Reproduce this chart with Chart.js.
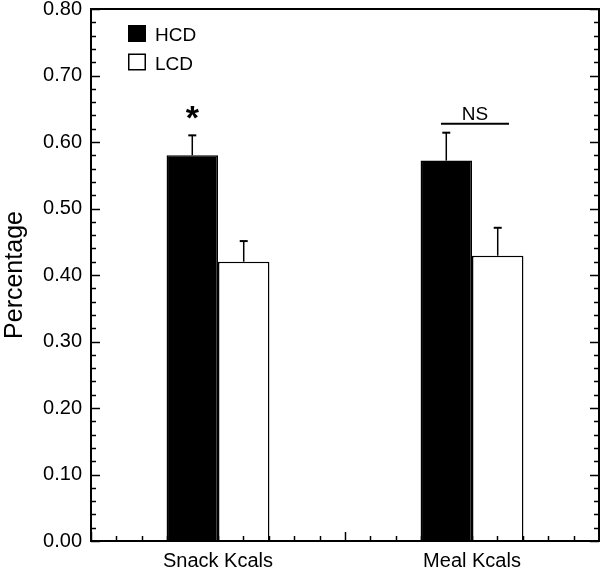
<!DOCTYPE html>
<html><head><meta charset="utf-8">
<script src="https://cdn.jsdelivr.net/npm/chart.js@4"></script>
<style>html,body{margin:0;padding:0;background:#fff}#wrap{width:600px;height:567px}</style>
</head><body><div id="wrap"><canvas id="c" width="600" height="567"></canvas></div>
<script>
const categories = ['Snack Kcals', 'Meal Kcals'];
const seriesNames = ['HCD', 'LCD'];
const hcdValues = [0.58, 0.572];
const lcdValues = [0.42, 0.429];
const hcdErrors = [0.03, 0.042];
const lcdErrors = [0.031, 0.042];
const significanceLabels = ['*', 'NS'];
const yAxisTitle = 'Percentage';

const FONT = '"Liberation Sans", Arial, sans-serif';

const decor = {
  id: 'decor',
  afterDatasetsDraw(chart) {
    const ctx = chart.ctx, a = chart.chartArea, x = chart.scales.x, y = chart.scales.y;
    ctx.save();
    ctx.strokeStyle = '#000';
    ctx.fillStyle = '#000';
    // error bars (upper only)
    chart.data.datasets.forEach((ds, di) => {
      const meta = chart.getDatasetMeta(di);
      meta.data.forEach((bar, i) => {
        const top = y.getPixelForValue(ds.data[i] + ds.errors[i]);
        ctx.lineWidth = 1.5;
        ctx.beginPath(); ctx.moveTo(bar.x, bar.y); ctx.lineTo(bar.x, top); ctx.stroke();
        ctx.lineWidth = 2;
        ctx.beginPath(); ctx.moveTo(bar.x - 4, top); ctx.lineTo(bar.x + 4, top); ctx.stroke();
      });
    });
    // inner tick marks on y (left and right)
    ctx.lineWidth = 1.5;
    for (let k = 0; k <= 40; k++) {
      const py = Math.round(y.getPixelForValue(k * 0.02)) + 0.5;
      const len = k % 5 === 0 ? 9 : 5;
      ctx.beginPath();
      ctx.moveTo(a.left, py); ctx.lineTo(a.left + len, py);
      ctx.moveTo(a.right, py); ctx.lineTo(a.right - len, py);
      ctx.stroke();
    }
    // inner tick marks on x (bottom)
    for (let k = 0; k <= 20; k++) {
      const px = Math.round(x.getPixelForValue(-0.5 + k * 0.1)) + 0.5;
      const len = k % 10 === 0 ? 9 : 5;
      ctx.beginPath(); ctx.moveTo(px, a.bottom); ctx.lineTo(px, a.bottom - len); ctx.stroke();
    }
    // frame
    ctx.lineWidth = 2;
    ctx.strokeRect(a.left, a.top, a.right - a.left, a.bottom - a.top);
    // legend
    ctx.font = '19px ' + FONT;
    ctx.textBaseline = 'alphabetic';
    ctx.textAlign = 'left';
    chart.data.datasets.forEach((ds, di) => {
      const bx = 128, by = 25 + di * 28.5;
      ctx.fillStyle = ds.backgroundColor;
      ctx.fillRect(bx, by, 18, 17);
      ctx.lineWidth = 1.5;
      ctx.strokeStyle = '#000';
      ctx.strokeRect(bx + 0.75, by + 0.75, 16.5, 15.5);
      ctx.fillStyle = '#000';
      ctx.fillText(ds.label, 155, by + 16);
    });
    // significance annotations
    const m0 = chart.getDatasetMeta(0);
    const d0 = chart.data.datasets[0], d1 = chart.data.datasets[1];
    // snack: asterisk
    const sx = m0.data[0].x;
    const sTop = y.getPixelForValue(d0.data[0] + d0.errors[0]);
    ctx.font = 'bold 34px ' + FONT;
    ctx.textAlign = 'center';
    ctx.fillText(significanceLabels[0], sx, sTop - 6);
    // meal: NS with line
    const cx = x.getPixelForValue(1) + 3;
    const mTop = Math.min(y.getPixelForValue(d0.data[1] + d0.errors[1]), y.getPixelForValue(d1.data[1] + d1.errors[1]));
    const ly = mTop - 9;
    ctx.lineWidth = 2;
    ctx.beginPath(); ctx.moveTo(cx - 34, ly); ctx.lineTo(cx + 34, ly); ctx.stroke();
    ctx.font = '19px ' + FONT;
    ctx.fillText(significanceLabels[1], cx, ly - 4);
    ctx.restore();
  }
};

new Chart(document.getElementById('c'), {
  type: 'bar',
  data: {
    labels: categories,
    datasets: [
      { label: seriesNames[0], data: hcdValues, errors: hcdErrors, backgroundColor: '#000000', borderColor: '#000000', borderWidth: 1.5 },
      { label: seriesNames[1], data: lcdValues, errors: lcdErrors, backgroundColor: '#ffffff', borderColor: '#000000', borderWidth: 1.5 }
    ]
  },
  options: {
    responsive: false,
    devicePixelRatio: 1,
    animation: false,
    layout: { padding: { top: 9, right: 1, bottom: 0, left: 0 } },
    datasets: { bar: { categoryPercentage: 0.405, barPercentage: 1.0, borderSkipped: 'bottom' } },
    plugins: { legend: { display: false }, tooltip: { enabled: false } },
    scales: {
      x: {
        type: 'category',
        offset: true,
        grid: { display: false, drawTicks: false },
        border: { display: false },
        ticks: { color: '#000', font: { family: FONT, size: 20 }, padding: 8, maxRotation: 0 },
        afterFit(s) { s.height = 26; s.paddingLeft = 0; s.paddingRight = 0; }
      },
      y: {
        min: 0, max: 0.8,
        grid: { display: false, drawTicks: false },
        border: { display: false },
        ticks: { stepSize: 0.1, color: '#000', font: { family: FONT, size: 20 }, padding: 9,
                 callback: v => Number(v).toFixed(2) },
        title: { display: true, text: yAxisTitle, color: '#000', font: { family: FONT, size: 25 }, padding: { top: 0, bottom: 0 } },
        afterFit(s) { s.width = 91; s.paddingTop = 0; s.paddingBottom = 0; }
      }
    }
  },
  plugins: [decor]
});
</script>
</body></html>
